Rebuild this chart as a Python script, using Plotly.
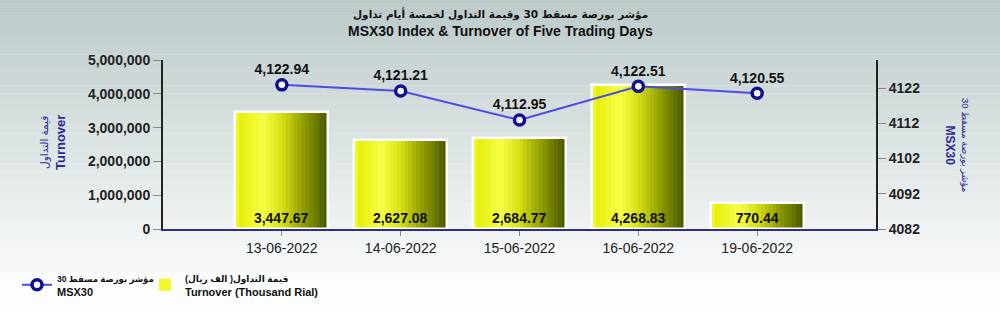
import plotly.graph_objects as go

# ---------------- data ----------------
dates = ["13-06-2022", "14-06-2022", "15-06-2022", "16-06-2022", "19-06-2022"]
turnover_thousand = [3447.67, 2627.08, 2684.77, 4268.83, 770.44]
msx30 = [4122.94, 4121.21, 4112.95, 4122.51, 4120.55]
left_ticks = [0, 1000000, 2000000, 3000000, 4000000, 5000000]
right_ticks = [4082, 4092, 4102, 4112, 4122]

title_ar = "مؤشر بورصة مسقط 30 وقيمة التداول لخمسة أيام تداول"
title_en = "MSX30 Index & Turnover of Five Trading Days"
line_ar, line_en = "مؤشر بورصة مسقط 30", "MSX30"
bar_ar, bar_en = "قيمة التداول( الف ريال)", "Turnover (Thousand Rial)"
left_ar, left_en = "قيمة التداول", "Turnover"

FONT = "Liberation Sans, Arial, DejaVu Sans, sans-serif"

turnover_vals = [v * 1000 for v in turnover_thousand]
bar_labels = [f"{v:,.2f}" for v in turnover_thousand]
line_labels = [f"{v:,.2f}" for v in msx30]

def small(s, size):
    return f'<span style="font-size:{size}px">{s}</span>'

fig = go.Figure()

# ---- gradient bars built from horizontal slices ----
def lerp(c1, c2, t):
    return tuple(round(a + (b - a) * t) for a, b in zip(c1, c2))

stops = [(0.0, (226, 236, 0)), (0.3, (246, 255, 70)), (0.5, (214, 224, 20)),
         (0.75, (140, 152, 0)), (1.0, (70, 86, 0))]

def grad(t):
    for (t0, c0), (t1, c1) in zip(stops[:-1], stops[1:]):
        if t <= t1:
            return lerp(c0, c1, (t - t0) / (t1 - t0))
    return stops[-1][1]

BW = 0.78
N = 24
sw = BW / N
for k in range(N):
    c = grad((k + 0.5) / N)
    fig.add_trace(go.Bar(
        x=dates, y=turnover_vals, width=sw * 1.1, offset=-BW / 2 + k * sw,
        marker=dict(color=f"rgb{c}" if k else "rgb(240,248,40)", line=dict(width=0)),
        showlegend=(k == 0), name=f"{small(bar_ar, 9)}<br>{bar_en}",
        legend="legend2", hoverinfo="skip"))

# outline + labels
fig.add_trace(go.Bar(
    x=dates, y=turnover_vals, width=BW, offset=-BW / 2,
    marker=dict(color="rgba(0,0,0,0)", line=dict(color="white", width=2.5)),
    text=bar_labels, textposition="inside", insidetextanchor="start",
    textfont=dict(family=FONT, size=14, color="#111", weight="bold"),
    constraintext="none", showlegend=False, hoverinfo="skip"))

# ---- MSX30 line ----
fig.add_trace(go.Scatter(
    x=dates, y=msx30, yaxis="y2", mode="lines+markers+text",
    line=dict(color="#4b4be6", width=2),
    marker=dict(size=10, color="white", line=dict(color="#10108f", width=3.5)),
    text=line_labels, textposition="top center",
    textfont=dict(family=FONT, size=14, color="#111", weight="bold"),
    name=f"{small(line_ar, 8.5)}<br>{line_en}", legend="legend", cliponaxis=False))

# ---- background gradient bands ----
H = 312
PT, PB = 60, 229
ph = PB - PT
top_c, bot_c = (188, 201, 201), (252, 253, 253)
shapes = []
nb = 40
for i in range(nb):
    y0px = i * H / nb
    y1px = (i + 1) * H / nb
    t = min(1.0, ((y0px + y1px) / 2) / 285)
    c = lerp(top_c, bot_c, t)
    shapes.append(dict(type="rect", xref="paper", yref="paper", layer="below",
                       x0=-0.3, x1=1.3,
                       y0=(PB - y1px) / ph, y1=(PB - y0px) / ph + 0.002,
                       fillcolor=f"rgb{c}", line=dict(width=0)))

def px_x(x):
    return (x - 163) / 713

def px_y(y):
    return (PB - y) / ph

legend_common = dict(orientation="h", xanchor="left", yanchor="top",
                     bgcolor="rgba(0,0,0,0)",
                     font=dict(family=FONT, size=11, color="#111", weight="bold"))

fig.update_layout(
    width=1000, height=312,
    margin=dict(l=163, r=124, t=PT, b=H - PB, autoexpand=False),
    paper_bgcolor="white", plot_bgcolor="rgba(0,0,0,0)",
    barmode="overlay", bargap=0,
    font=dict(family=FONT, color="#111"),
    shapes=shapes,
    xaxis=dict(type="category", range=[-1, 5], showline=True, linecolor="#2e2e80",
               linewidth=2, ticks="outside", ticklen=5, tickcolor="#888",
               tickfont=dict(family=FONT, size=14, color="#222"), showgrid=False,
               zeroline=False),
    yaxis=dict(range=[0, 5000000], tickvals=left_ticks, tickformat=",d",
               showline=True, linecolor="#222", linewidth=2,
               ticks="outside", ticklen=8, tickcolor="#888",
               tickfont=dict(family=FONT, size=14, color="#222", weight="bold"),
               showgrid=False, zeroline=False),
    yaxis2=dict(range=[4082, 4130], tickvals=right_ticks, overlaying="y", side="right",
                showline=True, linecolor="#222", linewidth=2,
                ticks="outside", ticklen=8, tickcolor="#888",
                tickfont=dict(family=FONT, size=14, color="#222", weight="bold"),
                showgrid=False, zeroline=False),
    legend=dict(x=px_x(17), y=px_y(264), **legend_common),
    legend2=dict(x=px_x(145), y=px_y(264), **legend_common),
    annotations=[
        dict(text=f"<b>{title_ar}</b>", xref="paper", yref="paper",
             x=px_x(500), y=px_y(14), xanchor="center", yanchor="middle",
             showarrow=False, font=dict(family="DejaVu Sans, sans-serif", size=10.5, color="#111")),
        dict(text=f"<b>{title_en}</b>", xref="paper", yref="paper",
             x=px_x(500), y=px_y(31), xanchor="center", yanchor="middle",
             showarrow=False, font=dict(family=FONT, size=14, color="#111")),
        dict(text=f"{small(left_ar, 10.5)}<br><b>{left_en}</b>", textangle=-90,
             xref="paper", yref="paper", x=px_x(53), y=px_y(143),
             xanchor="center", yanchor="middle",
             showarrow=False, font=dict(family=FONT, size=13, color="#2a2a9c")),
        dict(text=f"{small(line_ar, 9.5)}<br><b>{line_en}</b>", textangle=90,
             xref="paper", yref="paper", x=px_x(957), y=px_y(145),
             xanchor="center", yanchor="middle",
             showarrow=False, font=dict(family=FONT, size=12, color="#2a2a9c")),
    ],
)

fig.write_html("out.html")
